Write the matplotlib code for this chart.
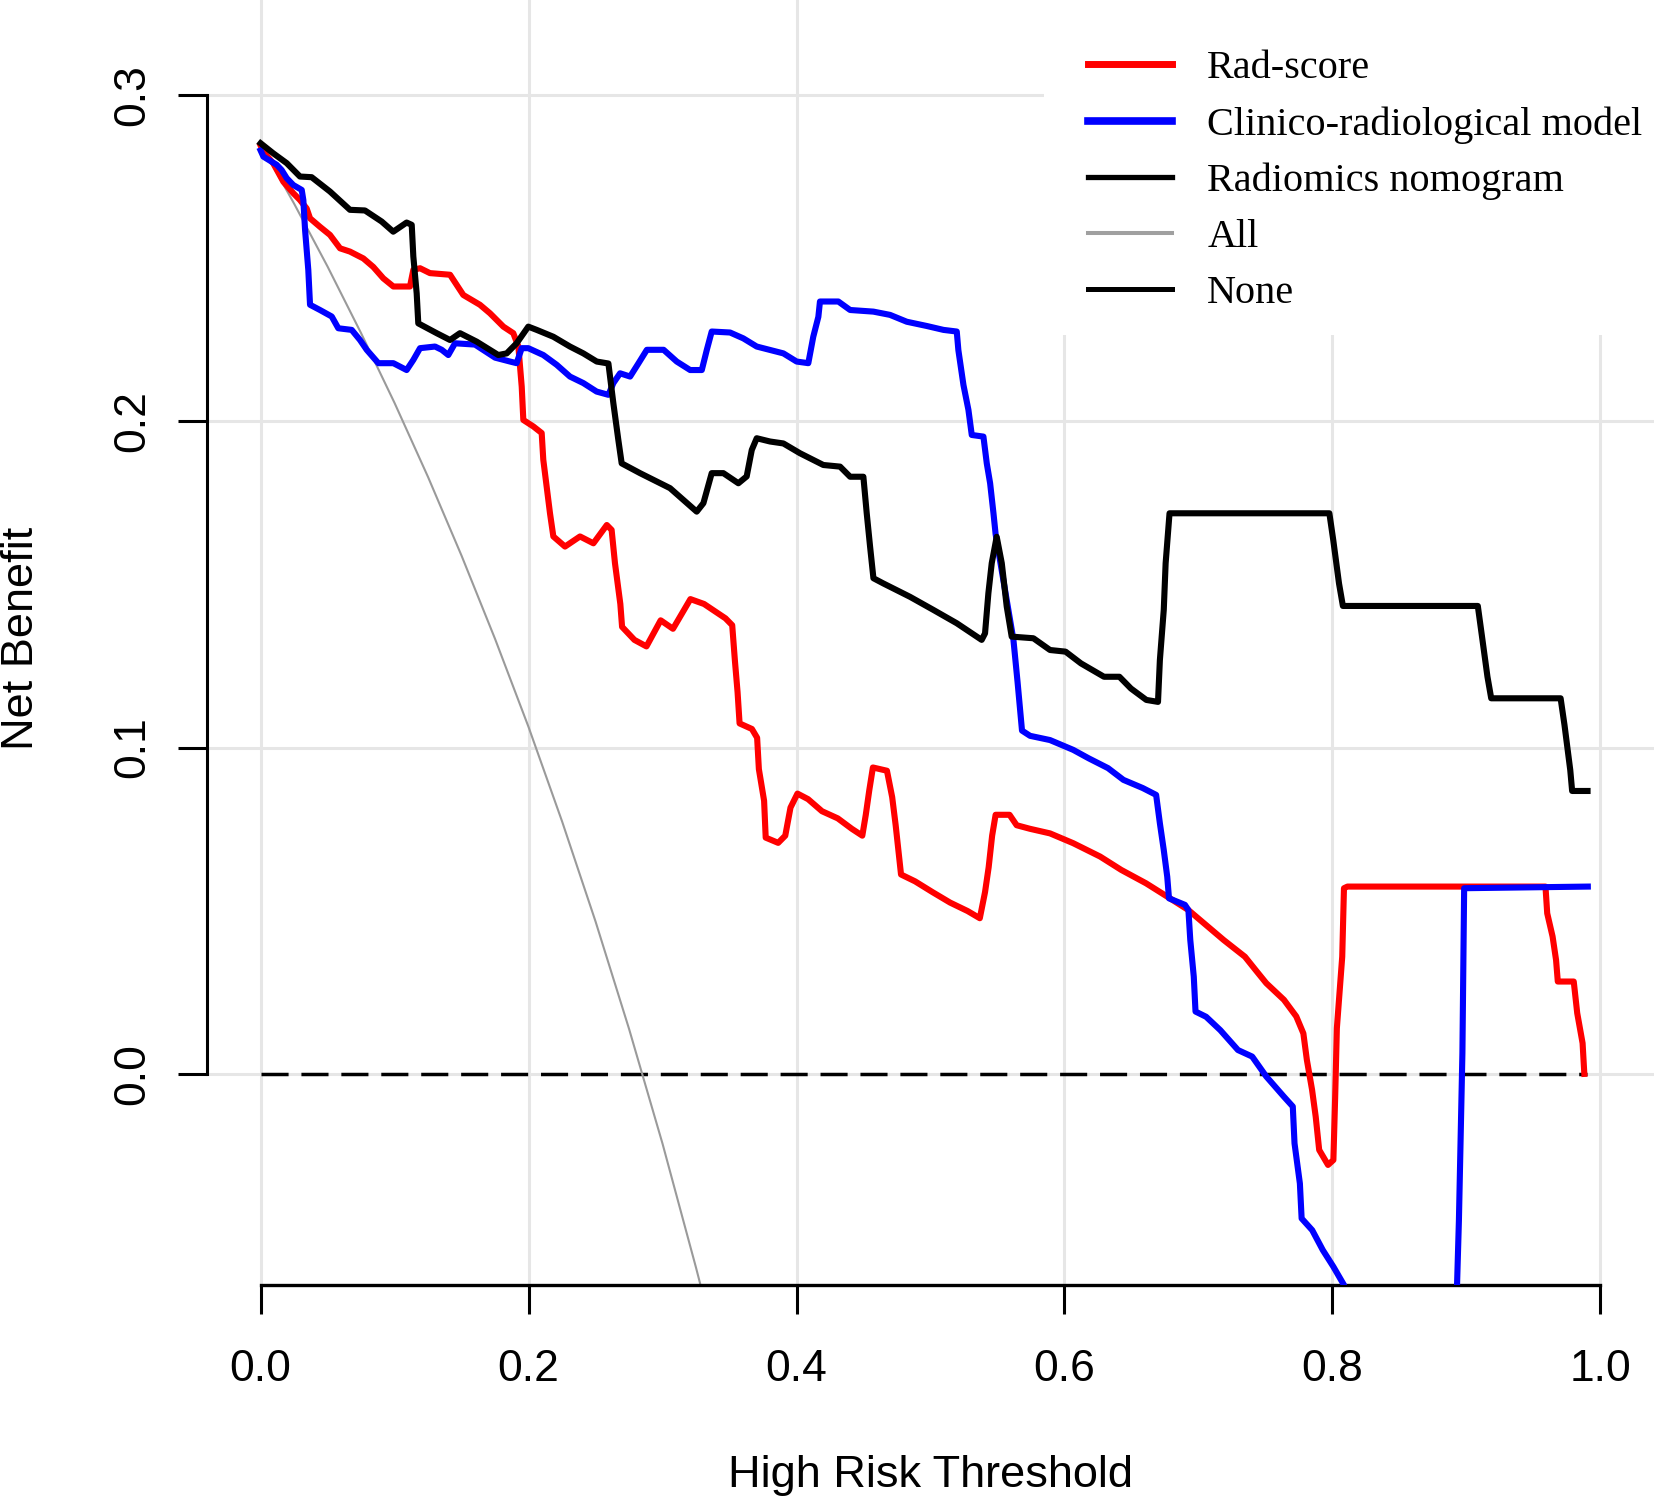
import matplotlib
matplotlib.use("Agg")
import matplotlib.pyplot as plt
from matplotlib.lines import Line2D
from matplotlib.patches import Rectangle

# decision curve values
rad_x = [0.000, 0.0021, 0.0095, 0.0170, 0.0244, 0.0294, 0.0344, 0.0369, 0.0443, 0.0518,
         0.0593, 0.0667, 0.0767, 0.0841, 0.0916, 0.0991, 0.1115, 0.1140, 0.1190, 0.1264,
         0.1414, 0.1513, 0.1637, 0.1712, 0.1812, 0.1886, 0.1924, 0.1949, 0.1961, 0.2036,
         0.2098, 0.2110, 0.2135, 0.2160, 0.2185, 0.2272, 0.2384, 0.2484, 0.2584, 0.2620,
         0.2645, 0.2685, 0.2698, 0.2790, 0.2880, 0.2986, 0.3078, 0.3208, 0.3310, 0.3470,
         0.3520, 0.3540, 0.3560, 0.3575, 0.3667, 0.3706, 0.3719, 0.3758, 0.3770, 0.3863,
         0.3916, 0.3955, 0.4007, 0.4086, 0.4190, 0.4308, 0.4413, 0.4491, 0.4517, 0.4543,
         0.4570, 0.4675, 0.4714, 0.4740, 0.4780, 0.4885, 0.5015, 0.5146, 0.5277, 0.5368,
         0.5407, 0.5434, 0.5460, 0.5486, 0.5590, 0.5643, 0.5743, 0.5892, 0.6065, 0.6266,
         0.6424, 0.6609, 0.6768, 0.6925, 0.7057, 0.7189, 0.7347, 0.7427, 0.7506, 0.7638,
         0.7730, 0.7783, 0.7809, 0.7848, 0.7875, 0.7901, 0.7967, 0.8007, 0.8020, 0.8033,
         0.8073, 0.8086, 0.8112, 0.9590, 0.9603, 0.9643, 0.9669, 0.9682, 0.9801, 0.9827,
         0.9867, 0.9880]
rad_y = [0.2845, 0.2826, 0.2790, 0.2734, 0.2699, 0.2678, 0.2652, 0.2622, 0.2596, 0.2571,
         0.2530, 0.2520, 0.2499, 0.2473, 0.2438, 0.2413, 0.2413, 0.2464, 0.2469, 0.2454,
         0.2449, 0.2387, 0.2357, 0.2331, 0.2290, 0.2270, 0.2229, 0.2106, 0.2004, 0.1984,
         0.1964, 0.1882, 0.1800, 0.1718, 0.1647, 0.1616, 0.1647, 0.1626, 0.1682, 0.1667,
         0.1565, 0.1440, 0.1370, 0.1330, 0.1310, 0.1390, 0.1364, 0.1455, 0.1440, 0.1396,
         0.1375, 0.1267, 0.1170, 0.1074, 0.1057, 0.1030, 0.0934, 0.0837, 0.0724, 0.0708,
         0.0730, 0.0816, 0.0859, 0.0842, 0.0805, 0.0783, 0.0751, 0.0730, 0.0794, 0.0869,
         0.0939, 0.0929, 0.0848, 0.0762, 0.0611, 0.0590, 0.0557, 0.0525, 0.0499, 0.0477,
         0.0557, 0.0633, 0.0730, 0.0794, 0.0794, 0.0762, 0.0751, 0.0737, 0.0707, 0.0666,
         0.0625, 0.0584, 0.0543, 0.0502, 0.0456, 0.0410, 0.0359, 0.0318, 0.0278, 0.0227,
         0.0176, 0.0124, 0.0043, -0.0049, -0.0131, -0.0233, -0.0279, -0.0264, -0.0075, 0.0140,
         0.0359, 0.0569, 0.0574, 0.0574, 0.0492, 0.0421, 0.0349, 0.0283, 0.0283, 0.0186,
         0.0094, 0.0000]

clin_x = [0.000, 0.0021, 0.0120, 0.0157, 0.0195, 0.0244, 0.0307, 0.0319, 0.0332, 0.0356,
          0.0369, 0.0443, 0.0531, 0.0580, 0.0680, 0.0742, 0.0792, 0.0879, 0.0991, 0.1090,
          0.1140, 0.1190, 0.1302, 0.1352, 0.1401, 0.1451, 0.1600, 0.1750, 0.1862, 0.1911,
          0.1949, 0.1998, 0.2110, 0.2210, 0.2309, 0.2409, 0.2508, 0.2596, 0.2633, 0.2683,
          0.2758, 0.2821, 0.2883, 0.3008, 0.3106, 0.3206, 0.3293, 0.3330, 0.3367, 0.3504,
          0.3603, 0.3703, 0.3902, 0.4001, 0.4088, 0.4125, 0.4163, 0.4175, 0.4312, 0.4400,
          0.4574, 0.4698, 0.4823, 0.4972, 0.5097, 0.5196, 0.5208, 0.5246, 0.5283, 0.5308,
          0.5395, 0.5420, 0.5445, 0.5470, 0.5486, 0.5619, 0.5650, 0.5683, 0.5743, 0.5892,
          0.6065, 0.6181, 0.6325, 0.6440, 0.6584, 0.6684, 0.6712, 0.6741, 0.6767, 0.6780,
          0.6899, 0.6925, 0.6939, 0.6965, 0.6978, 0.7057, 0.7163, 0.7295, 0.7401, 0.7506,
          0.7638, 0.7704, 0.7717, 0.7757, 0.7770, 0.7849, 0.7928, 0.8007, 0.8086, 0.8120,
          0.8920, 0.8930, 0.8944, 0.8970, 0.8983, 0.9906]
clin_y = [0.2830, 0.2811, 0.2786, 0.2770, 0.2745, 0.2724, 0.2709, 0.2678, 0.2586, 0.2464,
          0.2357, 0.2341, 0.2321, 0.2285, 0.2280, 0.2249, 0.2219, 0.2178, 0.2178, 0.2157,
          0.2188, 0.2224, 0.2229, 0.2219, 0.2203, 0.2239, 0.2235, 0.2195, 0.2183, 0.2178,
          0.2224, 0.2224, 0.2203, 0.2173, 0.2137, 0.2117, 0.2091, 0.2081, 0.2117, 0.2147,
          0.2137, 0.2178, 0.2219, 0.2219, 0.2183, 0.2157, 0.2157, 0.2218, 0.2275, 0.2272,
          0.2254, 0.2229, 0.2208, 0.2183, 0.2178, 0.2259, 0.2320, 0.2367, 0.2367, 0.2341,
          0.2336, 0.2326, 0.2305, 0.2292, 0.2280, 0.2275, 0.2218, 0.2111, 0.2035, 0.1958,
          0.1953, 0.1871, 0.1810, 0.1718, 0.1654, 0.1330, 0.1200, 0.1052, 0.1036, 0.1023,
          0.0993, 0.0967, 0.0937, 0.0901, 0.0876, 0.0855, 0.0768, 0.0686, 0.0604, 0.0538,
          0.0518, 0.0502, 0.0410, 0.0298, 0.0191, 0.0175, 0.0134, 0.0073, 0.0053, -0.0008,
          -0.0070, -0.0100, -0.0213, -0.0336, -0.0443, -0.0479, -0.0540, -0.0591, -0.0647, -0.0700,
          -0.0700, -0.0647, -0.0448, 0.0064, 0.0569, 0.0574]

nomo_x = [0.000, 0.0095, 0.0195, 0.0294, 0.0381, 0.0518, 0.0667, 0.0779, 0.0904, 0.0990,
          0.1090, 0.1128, 0.1140, 0.1165, 0.1177, 0.1314, 0.1414, 0.1488, 0.1613, 0.1774,
          0.1837, 0.1911, 0.1998, 0.2061, 0.2185, 0.2309, 0.2409, 0.2509, 0.2596, 0.2633,
          0.2670, 0.2695, 0.2832, 0.3056, 0.3255, 0.3305, 0.3367, 0.3454, 0.3566, 0.3628,
          0.3666, 0.3703, 0.3802, 0.3902, 0.4026, 0.4200, 0.4325, 0.4400, 0.4499, 0.4524,
          0.4549, 0.4574, 0.4648, 0.4847, 0.5021, 0.5196, 0.5382, 0.5407, 0.5432, 0.5457,
          0.5494, 0.5532, 0.5569, 0.5606, 0.5768, 0.5892, 0.6008, 0.6123, 0.6295, 0.6410,
          0.6496, 0.6611, 0.6698, 0.6712, 0.6741, 0.6755, 0.6784, 0.7977, 0.8006, 0.8049,
          0.8078, 0.9085, 0.9113, 0.9157, 0.9185, 0.9703, 0.9732, 0.9775, 0.9789, 0.9904]
nomo_y = [0.2852, 0.2821, 0.2791, 0.2750, 0.2748, 0.2704, 0.2648, 0.2646, 0.2612, 0.2581,
          0.2609, 0.2602, 0.2505, 0.2392, 0.2300, 0.2270, 0.2249, 0.2270, 0.2244, 0.2203,
          0.2208, 0.2239, 0.2290, 0.2280, 0.2259, 0.2229, 0.2208, 0.2183, 0.2177, 0.2055,
          0.1943, 0.1871, 0.1841, 0.1795, 0.1723, 0.1749, 0.1841, 0.1841, 0.1810, 0.1831,
          0.1912, 0.1948, 0.1938, 0.1932, 0.1902, 0.1866, 0.1861, 0.1830, 0.1830, 0.1718,
          0.1616, 0.1519, 0.1503, 0.1462, 0.1422, 0.1381, 0.1330, 0.1350, 0.1473, 0.1565,
          0.1646, 0.1565, 0.1432, 0.1340, 0.1335, 0.1299, 0.1294, 0.1258, 0.1217, 0.1217,
          0.1181, 0.1146, 0.1140, 0.1268, 0.1422, 0.1565, 0.1718, 0.1718, 0.1636, 0.1503,
          0.1434, 0.1434, 0.1350, 0.1217, 0.1151, 0.1151, 0.1069, 0.0931, 0.0867, 0.0867]

all_x = [0.000, 0.025, 0.050, 0.075, 0.100, 0.125, 0.150, 0.175, 0.200, 0.225,
         0.250, 0.275, 0.300, 0.325, 0.340]
all_y = [0.2850, 0.2667, 0.2474, 0.2270, 0.2056, 0.1829, 0.1588, 0.1333, 0.1063, 0.0774,
         0.0467, 0.0138, -0.0214, -0.0594, -0.0833]

none_x = [0.0, 0.99]
none_y = [0.0, 0.0]

x_ticks = [0.0, 0.2, 0.4, 0.6, 0.8, 1.0]
y_ticks = [0.0, 0.1, 0.2, 0.3]
labels = ["Rad-score", "Clinico-radiological model", "Radiomics nomogram", "All", "None"]

plt.rcParams['font.family'] = ['Liberation Sans', 'DejaVu Sans']

W, H = 1654, 1497
fig = plt.figure(figsize=(W / 100, H / 100), dpi=100)
ax = fig.add_axes([207 / W, (H - 1285) / H, 1 - 207 / W, 1285 / H])
ax.set_xlim(-0.04, 1.04)
ax.set_ylim(-0.0647, 0.3291)

ax.set_axisbelow(True)
ax.grid(True, color='#e6e6e6', linewidth=2.2)

ax.plot(none_x, none_y, color='black', linewidth=2.5, dashes=(7.8, 3.7), zorder=2)
ax.plot(all_x, all_y, color='#9a9a9a', linewidth=1.5, zorder=2.1)
ax.plot(rad_x, rad_y, color='#ff0000', linewidth=4.4, zorder=3)
ax.plot(clin_x, clin_y, color='#0000ff', linewidth=4.4, zorder=3.1)
ax.plot(nomo_x, nomo_y, color='black', linewidth=4.4, zorder=3.2)

ax.set_xticks(x_ticks)
ax.set_xticklabels(["%.1f" % v for v in x_ticks])
ax.set_yticks(y_ticks)
ax.set_yticklabels(["%.1f" % v for v in y_ticks], rotation=90, va='center')
ax.tick_params(axis='both', direction='out', length=21, width=2.2, labelsize=32)
ax.tick_params(axis='x', pad=25)
ax.tick_params(axis='y', pad=18)

for side in ['top', 'right']:
    ax.spines[side].set_visible(False)
ax.spines['left'].set_bounds(0, 0.3)
ax.spines['bottom'].set_bounds(0, 1)
ax.spines['left'].set_linewidth(2.2)
ax.spines['bottom'].set_linewidth(2.4)

# white legend background covering the grid
ax.add_patch(Rectangle((1 - (W - 1044) / 1447, 1 - 335 / 1285), (W - 1044) / 1447, 335 / 1285,
                       transform=ax.transAxes, facecolor='white', edgecolor='none', zorder=4))

handles = [Line2D([], [], color='#ff0000', linewidth=5.0),
           Line2D([], [], color='#0000ff', linewidth=5.5),
           Line2D([], [], color='black', linewidth=3.8),
           Line2D([], [], color='#a0a0a0', linewidth=2.9),
           Line2D([], [], color='black', linewidth=3.6)]
leg = fig.legend(handles, labels, loc='upper left', bbox_to_anchor=(1087.6 / W, 1 - 50 / H),
                 frameon=False, borderpad=0, borderaxespad=0, handlelength=2.1,
                 handletextpad=0.87, labelspacing=0.47,
                 prop={'family': 'Liberation Serif', 'size': 29})
leg.set_zorder(5)

fig.text(0.5 * (207 + W) / W, 1 - 1475 / H, "High Risk Threshold", fontsize=32.5,
         ha='center', va='center')
fig.text(22 / W, 1 - 638 / H, "Net Benefit", fontsize=32.5, rotation=90,
         ha='center', va='center')

fig.savefig("out.png", dpi=100)
